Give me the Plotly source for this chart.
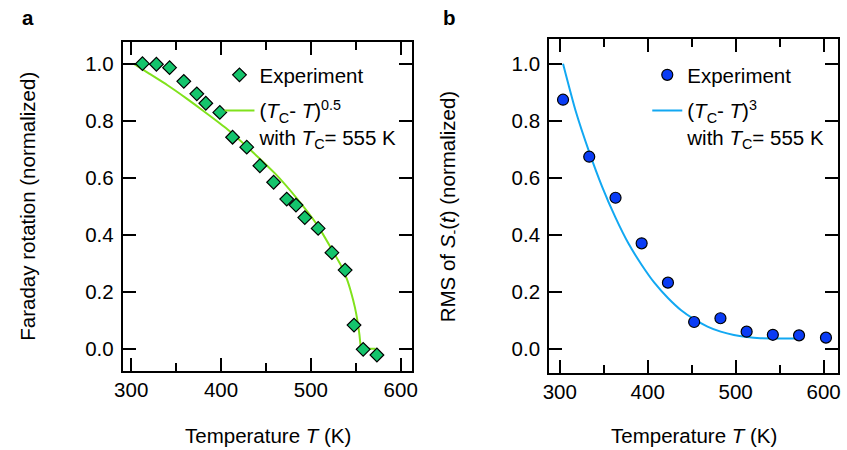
import plotly.graph_objects as go

# ---------------- data ----------------
# Panel a: Faraday rotation
temp_a = [312.5, 328, 342.7, 358.5, 373, 383, 398.6, 412.8, 428.6, 443.2,
          458.5, 473.1, 483.4, 493.2, 508.1, 523.4, 538.1, 548, 558.2, 573.5]
faraday = [1.0, 0.998, 0.986, 0.938, 0.894, 0.861, 0.829, 0.742, 0.707, 0.642,
           0.584, 0.525, 0.504, 0.460, 0.422, 0.337, 0.276, 0.083, -0.002, -0.022]
fit_temp_a = [302.6, 320, 340, 361, 380, 405, 430, 460, 485, 508, 523, 533, 540,
              545, 549, 552, 554, 555.2, 556, 564, 572]
fit_a = [1.0, 0.965, 0.925, 0.879, 0.835, 0.775, 0.705, 0.615, 0.525, 0.43,
         0.35, 0.295, 0.245, 0.195, 0.145, 0.095, 0.05, 0.015, 0.0, 0.0, 0.0]

# Panel b: RMS of S_(t)
temp_b = [303.7, 333.5, 363.4, 393.1, 423, 452.8, 482.7, 512.5, 542.3, 572.1, 602.7]
rms = [0.874, 0.674, 0.530, 0.370, 0.232, 0.094, 0.107, 0.060, 0.049, 0.047, 0.039]
fit_temp_b = [303.7, 318, 333.5, 348, 363.4, 378, 393, 408, 423, 438, 453, 468,
              483, 498, 513, 528, 543, 568]
fit_b = [1.0, 0.835, 0.69, 0.57, 0.46, 0.37, 0.295, 0.23, 0.178, 0.135, 0.103,
         0.078, 0.060, 0.048, 0.041, 0.037, 0.036, 0.036]

x_ticks = [300, 400, 500, 600]
y_ticks = [0.0, 0.2, 0.4, 0.6, 0.8, 1.0]

# ---------------- styling ----------------
FONT = "Liberation Sans, Arial, Helvetica, sans-serif"
FS = 20.5
W, H = 847, 450
GREEN_PT = "#14C46C"
GREEN_LN = "#80E21C"
BLUE_PT = "#0A3CF5"
BLUE_LN = "#12A8F2"


def px_x(p):
    return p / W


def px_y(p):
    return (H - p) / H


fig = go.Figure()

fit_name_a = "(<i>T</i><sub>C</sub>- <i>T</i>)<sup>0.5</sup><br>with <i>T</i><sub>C</sub>= 555 K"
fit_name_b = "(<i>T</i><sub>C</sub>- <i>T</i>)<sup>3</sup><br>with <i>T</i><sub>C</sub>= 555 K"

fig.add_trace(go.Scatter(x=fit_temp_a, y=fit_a, mode="lines", name=fit_name_a,
                         line=dict(color=GREEN_LN, width=2, shape="spline", smoothing=0.4),
                         xaxis="x", yaxis="y", legend="legend", legendrank=2,
                         legendgroup="fa"))
fig.add_trace(go.Scatter(x=temp_a, y=faraday, mode="markers", name="Experiment",
                         marker=dict(symbol="diamond", size=10.5, color=GREEN_PT,
                                     line=dict(color="black", width=1.2)),
                         xaxis="x", yaxis="y", legend="legend", legendrank=1,
                         legendgroup="ea"))

fig.add_trace(go.Scatter(x=fit_temp_b, y=fit_b, mode="lines", name=fit_name_b,
                         line=dict(color=BLUE_LN, width=2, shape="spline", smoothing=0.6),
                         xaxis="x2", yaxis="y2", legend="legend2", legendrank=2,
                         legendgroup="fb"))
fig.add_trace(go.Scatter(x=temp_b, y=rms, mode="markers", name="Experiment",
                         marker=dict(symbol="circle", size=11, color=BLUE_PT,
                                     line=dict(color="black", width=1.2)),
                         xaxis="x2", yaxis="y2", legend="legend2", legendrank=1,
                         legendgroup="eb"))

common_x = dict(showline=True, linecolor="black", linewidth=2, mirror="ticks",
                ticks="inside", ticklen=13, tickwidth=2, tickcolor="black",
                tickvals=x_ticks, ticktext=[str(v) for v in x_ticks],
                showgrid=False, zeroline=False,
                tickfont=dict(family=FONT, size=FS, color="black"),
                minor=dict(ticks="inside", ticklen=8, tickwidth=2, tickcolor="black",
                           dtick=50, showgrid=False))
common_y = dict(showline=True, linecolor="black", linewidth=2, mirror="ticks",
                ticks="inside", ticklen=13, tickwidth=2, tickcolor="black",
                tickvals=y_ticks, ticktext=[f"{v:.1f}" for v in y_ticks],
                showgrid=False, zeroline=False, ticklabelstandoff=3,
                tickfont=dict(family=FONT, size=FS, color="black"))

legend_common = dict(xanchor="left", yanchor="top", bgcolor="rgba(0,0,0,0)",
                     borderwidth=0, itemwidth=30, valign="top",
                     traceorder="grouped", tracegroupgap=6,
                     font=dict(family=FONT, size=FS, color="black"))

fig.update_layout(
    width=W, height=H,
    margin=dict(l=0, r=0, t=0, b=0),
    paper_bgcolor="white", plot_bgcolor="white",
    font=dict(family=FONT, size=FS, color="black"),
    xaxis=dict(domain=[px_x(115.7), px_x(410)], range=[290.6, 612.8], anchor="y", **common_x),
    yaxis=dict(domain=[px_y(370.7), px_y(41.7)], range=[-0.077, 1.077], anchor="x", **common_y),
    xaxis2=dict(domain=[px_x(549.3), px_x(843.3)], range=[288, 616.8], anchor="y2", **common_x),
    yaxis2=dict(domain=[px_y(372.7), px_y(39.3)], range=[-0.084, 1.086], anchor="x2", **common_y),
    legend=dict(x=px_x(214), y=px_y(55), **legend_common),
    legend2=dict(x=px_x(649), y=px_y(55), **legend_common),
    showlegend=True,
)

ann = [
    dict(text="<b>a</b>", x=px_x(19.5), y=px_y(17)),
    dict(text="<b>b</b>", x=px_x(448.3), y=px_y(17)),
    dict(text="Temperature <i>T</i> (K)", x=px_x(263), y=px_y(435)),
    dict(text="Temperature <i>T</i> (K)", x=px_x(696.7), y=px_y(435)),
    dict(text="Faraday rotation (normalized)", x=px_x(19), y=px_y(206), textangle=-90),
    dict(text="RMS of <i>S</i><sub>-</sub>(<i>t</i>) (normalized)", x=px_x(447),
         y=px_y(206.7), textangle=-90),
]
for a in ann:
    fig.add_annotation(xref="paper", yref="paper", showarrow=False,
                       xanchor="center", yanchor="middle",
                       font=dict(family=FONT, size=FS, color="black"), **a)

fig.write_html("out.html", config={"displayModeBar": False},
               post_script="document.body.style.margin='0px';"
                           "document.body.style.padding='0px';"
                           "document.body.style.overflow='hidden';")
